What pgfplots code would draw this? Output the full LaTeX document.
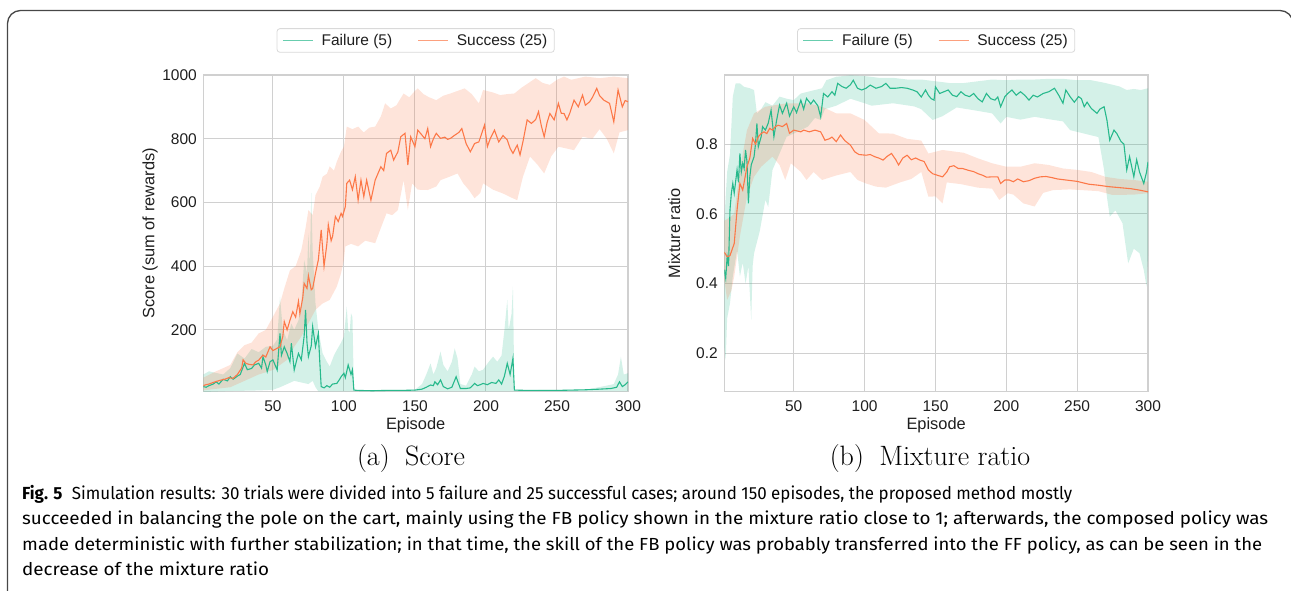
\documentclass[border=0pt]{standalone}
\usepackage{pgfplots}
\pgfplotsset{compat=1.18}
\usepgfplotslibrary{fillbetween}
\usepackage{fontspec}
\usepackage{graphicx}
\newfontfamily\arial{Liberation Sans}
\newfontfamily\capfont{Fira Sans}
\definecolor{cgreen}{RGB}{40,185,140}
\definecolor{corange}{RGB}{252,120,72}
\definecolor{gridc}{RGB}{208,208,208}
\definecolor{tickc}{RGB}{30,30,30}
\newlength\capw
\newcommand\capsize{\capfont\fontsize{17.5}{25}\selectfont}
\newcommand\lineA{\textbf{Fig. 5}\hspace{0.55em}Simulation results: 30 trials were divided into 5 failure and 25 successful cases; around 150 episodes, the proposed method mostly}
\newcommand\lineB{succeeded in balancing the pole on the cart, mainly using the FB policy shown in the mixture ratio close to 1; afterwards, the composed policy was}
\newcommand\lineC{made deterministic with further stabilization; in that time, the skill of the FB policy was probably transferred into the FF policy, as can be seen in the}
\newcommand\lineD{decrease of the mixture ratio}

\pgfplotsset{
  myaxis/.style={
    scale only axis,
    anchor=south west,
    xmin=1, xmax=300,
    xtick={50,100,150,200,250,300},
    xticklabels={50,100,150,200,250,300},
    grid=major,
    major grid style={draw=gridc, line width=1pt},
    axis line style={draw=gridc, line width=1.4pt},
    major tick length=0pt,
    tick style={draw=none},
    ticklabel style={font=\arial\fontsize{15.5}{18}\selectfont, text=tickc},
    xticklabel style={anchor=center, yshift=-14pt},
    yticklabel style={anchor=east, xshift=-3pt},
    label style={font=\arial\fontsize{16.4}{19}\selectfont, text=tickc},
    xlabel={Episode},
    xlabel style={at={(axis description cs:0.5,-0.107)}, anchor=center},
    legend columns=2,
    legend style={at={(axis description cs:0.5,1.109)}, anchor=center,
      draw=gridc!80, rounded corners=3pt, line width=0.8pt,
      font=\arial\fontsize{15.5}{18}\selectfont, text=tickc,
      inner xsep=5pt, inner ysep=3.5pt,
      /tikz/every odd column/.append style={column sep=6pt},
      /tikz/every even column/.append style={column sep=23pt}},
    legend image code/.code={\draw[#1, line width=1.6pt, opacity=0.7] (0pt,0pt) -- (30pt,0pt);},
  },
  fline/.style={cgreen, line width=1.1pt},
  sline/.style={corange, line width=1.1pt},
}

\begin{document}
\settowidth{\capw}{\capsize\lineA}\pgfmathsetmacro\rA{1050/\capw}%
\settowidth{\capw}{\capsize\lineB}\pgfmathsetmacro\rB{1246/\capw}%
\settowidth{\capw}{\capsize\lineC}\pgfmathsetmacro\rC{1240/\capw}%
\settowidth{\capw}{\capsize\lineD}\pgfmathsetmacro\rD{247/\capw}%
\begin{tikzpicture}
\path (0pt,0pt) rectangle (1291pt,590pt);
\draw[overlay, line width=1.3pt, black!72, rounded corners=13pt] (7.5pt,-40pt) -- (7.5pt,579.5pt) -- (1293pt,579.5pt) -- (1293pt,-40pt);

% ---------------- (a) Score ----------------
\begin{axis}[myaxis, at={(203.3pt,198.3pt)}, width=424.7pt, height=316.7pt,
  ymin=6, ymax=1000,
  ytick={200,400,600,800,1000}, yticklabels={200,400,600,800,1000},
  ylabel={Score (sum of rewards)},
  ylabel style={at={(axis description cs:-0.125,0.5)}, anchor=center}]
% Failure band
\addplot[draw=none, name path=fu, forget plot] coordinates {
(1,60) (5,70) (10,65) (15,60) (20,80) (25,126) (30,110) (35,140) (40,130) (45,147) (50,150) (53,170) (55,304) (57,200) (60,168) (63,220) (65,200) (68,230) (70,283) (72,419) (74,380) (75,504) (76,400) (77,630) (78,450) (80,283) (82,200) (85,126) (88,100) (90,85) (93,120) (95,137) (98,160) (100,179) (102,273) (103,200) (104,190) (105,252) (106,240) (107,11) (110,11) (150,12) (155,30) (158,60) (161,95) (163,60) (165,80) (168,132) (170,90) (173,70) (176,100) (178,142) (180,110) (182,30) (186,25) (190,60) (192,85) (195,70) (198,75) (202,100) (205,116) (208,100) (211,120) (213,200) (215,294) (216,200) (218,250) (219,336) (220,11) (270,12) (285,25) (290,30) (293,60) (295,116) (297,60) (300,64)};
\addplot[draw=none, name path=fl, forget plot] coordinates {
(1,5) (20,8) (40,10) (50,12) (55,20) (60,30) (65,40) (70,35) (75,30) (78,40) (80,20) (82,7) (107,7) (300,7)};
\addplot[fill=cgreen, fill opacity=0.2, draw=none, forget plot] fill between[of=fu and fl];
\addplot[fline] coordinates {
(1,22) (3,20) (5,25) (8,30) (10,37) (12,30) (15,45) (18,40) (20,53) (22,45) (25,55) (27,60) (30,95) (32,75) (35,79) (37,90) (40,95) (42,80) (43,116) (45,90) (46,69) (48,100) (50,106) (52,85) (53,74) (55,189) (56,120) (58,147) (60,126) (62,100) (63,158) (65,74) (67,110) (68,126) (70,106) (72,180) (73,263) (74,160) (75,116) (77,150) (78,210) (80,147) (82,189) (83,100) (84,22) (86,18) (88,25) (90,20) (92,30) (95,32) (97,45) (98,53) (100,64) (101,50) (103,90) (105,60) (106,75) (107,11) (110,10) (120,9) (130,10) (140,10) (150,11) (155,14) (158,20) (161,27) (163,25) (164,37) (166,28) (168,43) (170,22) (173,15) (176,20) (179,53) (180,40) (182,16) (186,16) (189,18) (192,32) (194,25) (196,28) (198,32) (201,28) (204,35) (207,32) (209,43) (211,30) (213,55) (215,95) (217,60) (219,111) (220,11) (230,10) (240,10) (250,10) (260,11) (270,12) (280,14) (288,16) (292,20) (294,37) (296,22) (298,28) (300,37)};
\addlegendentry{Failure (5)}
% Success band
\addplot[draw=none, name path=su, forget plot] coordinates {
(1,50) (10,70) (20,90) (25,130) (30,152) (35,160) (40,189) (45,200) (50,241) (55,283) (58,330) (62,387) (66,400) (70,450) (73,520) (75,576) (78,560) (80,623) (83,650) (85,681) (88,690) (90,713) (93,700) (95,728) (98,760) (100,775) (102,838) (106,830) (110,838) (114,820) (118,835) (122,838) (126,870) (129,911) (133,895) (137,905) (142,942) (146,930) (150,950) (152,958) (156,940) (160,930) (165,921) (170,935) (175,942) (180,950) (185,958) (190,940) (195,911) (198,953) (205,945) (210,937) (215,940) (220,942) (225,960) (230,975) (235,990) (240,975) (245,969) (250,985) (255,995) (260,985) (270,995) (280,990) (290,995) (300,990)};
\addplot[draw=none, name path=sl, forget plot] coordinates {
(1,10) (10,15) (20,20) (30,40) (40,60) (50,74) (55,90) (60,106) (65,147) (70,179) (75,221) (80,263) (85,283) (90,294) (95,336) (98,378) (100,420) (101,462) (105,470) (110,462) (115,480) (122,472) (126,520) (130,566) (134,560) (138,576) (142,670) (145,576) (148,660) (152,640) (159,639) (165,650) (168,670) (174,680) (180,691) (184,660) (188,639) (192,613) (196,630) (198,660) (205,640) (212,628) (218,615) (222,607) (226,680) (231,744) (236,720) (241,691) (246,745) (251,775) (256,770) (262,764) (268,806) (275,800) (280,830) (285,800) (290,754) (294,820) (300,827)};
\addplot[fill=corange, fill opacity=0.2, draw=none, forget plot] fill between[of=su and sl];
\addplot[sline] coordinates {
(1,25) (3,28) (5,30) (8,35) (10,38) (13,42) (16,45) (19,50) (22,48) (25,60) (28,80) (29,106) (31,95) (33,92) (36,90) (38,100) (40,105) (43,121) (45,115) (48,147) (50,135) (52,140) (55,147) (57,180) (58,226) (60,200) (62,230) (64,257) (66,240) (68,290) (69,251) (71,300) (72,346) (74,330) (75,370) (77,326) (78,330) (80,378) (82,420) (84,514) (86,399) (88,470) (89,530) (91,480) (92,493) (94,556) (96,540) (98,566) (99,556) (101,587) (102,660) (104,670) (106,640) (108,681) (110,607) (112,670) (114,618) (116,670) (119,607) (122,670) (124,691) (126,712) (128,700) (130,754) (133,764) (135,733) (138,759) (140,806) (143,817) (145,717) (147,806) (150,775) (152,827) (155,811) (157,800) (159,832) (161,775) (163,800) (165,817) (168,801) (171,805) (173,798) (175,801) (178,811) (181,820) (183,832) (186,785) (189,759) (192,785) (195,790) (199,843) (201,775) (203,800) (206,827) (209,790) (212,810) (215,796) (217,770) (219,754) (222,780) (224,749) (226,790) (229,859) (232,848) (235,860) (237,885) (239,840) (241,806) (243,850) (245,879) (248,859) (251,911) (253,880) (255,879) (257,859) (259,880) (262,921) (265,900) (268,937) (270,905) (273,916) (275,930) (278,958) (280,935) (283,921) (287,911) (290,853) (293,953) (296,900) (298,920) (300,916)};
\addlegendentry{Success (25)}
\end{axis}

% ---------------- (b) Mixture ratio ----------------
\begin{axis}[myaxis, at={(724.3pt,198.3pt)}, width=423.7pt, height=316.7pt,
  ymin=0.09, ymax=0.998,
  ytick={0.2,0.4,0.6,0.8}, yticklabels={0.2,0.4,0.6,0.8},
  ylabel={Mixture ratio},
  ylabel style={at={(axis description cs:-0.118,0.5)}, anchor=center}]
\addplot[draw=none, name path=gu, forget plot] coordinates {
(1,0.58) (3,0.72) (5,0.77) (7,0.936) (9,0.974) (12,0.974) (15,0.964) (19,0.96) (22,0.955) (24,0.888) (27,0.9) (30,0.92) (35,0.91) (40,0.936) (45,0.93) (50,0.926) (55,0.945) (60,0.95) (65,0.955) (70,0.96) (73,0.983) (80,0.993) (90,0.997) (100,0.995) (110,0.99) (120,0.99) (130,0.985) (140,0.985) (150,0.98) (160,0.975) (170,0.975) (180,0.98) (190,0.985) (200,0.983) (210,0.985) (220,0.985) (230,0.987) (240,0.987) (250,0.983) (260,0.983) (270,0.975) (280,0.965) (285,0.955) (290,0.958) (295,0.955) (300,0.96)};
\addplot[draw=none, name path=gl, forget plot] coordinates {
(1,0.22) (2,0.181) (3,0.3) (5,0.343) (7,0.42) (10,0.496) (12,0.42) (14,0.46) (16,0.4) (18,0.45) (20,0.296) (21,0.45) (22,0.487) (26,0.55) (30,0.64) (32,0.62) (35,0.726) (40,0.773) (45,0.821) (50,0.83) (55,0.84) (60,0.85) (65,0.875) (69,0.869) (72,0.9) (80,0.91) (90,0.93) (100,0.917) (105,0.91) (120,0.917) (135,0.908) (140,0.90) (148,0.869) (155,0.88) (165,0.905) (180,0.895) (190,0.888) (196,0.859) (200,0.878) (210,0.87) (220,0.878) (232,0.87) (240,0.865) (245,0.84) (255,0.83) (265,0.82) (269,0.726) (271,0.649) (273,0.592) (277,0.61) (282,0.573) (284,0.515) (286,0.458) (290,0.5) (294,0.487) (297,0.439) (299,0.391) (300,0.48)};
\addplot[fill=cgreen, fill opacity=0.2, draw=none, forget plot] fill between[of=gu and gl];
\addplot[fline] coordinates {
(1,0.44) (2,0.415) (3,0.477) (4,0.45) (5,0.611) (6,0.66) (7,0.687) (8,0.659) (10,0.726) (11,0.69) (12,0.773) (13,0.72) (14,0.745) (15,0.73) (16,0.783) (17,0.75) (18,0.63) (19,0.706) (20,0.74) (22,0.764) (23,0.8) (24,0.859) (25,0.792) (27,0.821) (28,0.85) (30,0.84) (32,0.86) (34,0.897) (36,0.821) (38,0.87) (40,0.912) (42,0.888) (45,0.917) (47,0.88) (50,0.907) (52,0.89) (55,0.926) (57,0.9) (59,0.931) (62,0.915) (64,0.926) (67,0.91) (69,0.878) (71,0.945) (74,0.935) (77,0.95) (79,0.94) (81,0.974) (84,0.965) (87,0.96) (90,0.97) (92,0.983) (95,0.96) (98,0.955) (101,0.96) (104,0.969) (108,0.96) (112,0.965) (115,0.974) (118,0.96) (122,0.96) (126,0.962) (130,0.96) (134,0.955) (137,0.95) (140,0.935) (143,0.955) (145,0.94) (147,0.93) (149,0.926) (150,0.964) (153,0.945) (156,0.95) (159,0.955) (162,0.94) (165,0.936) (168,0.95) (171,0.94) (174,0.936) (177,0.945) (180,0.93) (183,0.921) (186,0.945) (189,0.93) (192,0.926) (194,0.935) (196,0.907) (199,0.936) (201,0.945) (204,0.955) (207,0.94) (210,0.95) (213,0.94) (216,0.926) (219,0.94) (222,0.935) (226,0.945) (230,0.95) (234,0.96) (237,0.94) (240,0.917) (242,0.955) (245,0.936) (248,0.92) (251,0.936) (253,0.93) (255,0.907) (257,0.92) (260,0.902) (264,0.888) (266,0.9) (269,0.907) (271,0.869) (273,0.811) (276,0.84) (278,0.83) (281,0.807) (283,0.8) (285,0.726) (287,0.764) (290,0.706) (292,0.755) (294,0.72) (297,0.687) (299,0.72) (300,0.749)};
\addlegendentry{Failure (5)}
\addplot[draw=none, name path=ou, forget plot] coordinates {
(1,0.58) (5,0.59) (8,0.6) (12,0.726) (17,0.84) (22,0.888) (30,0.907) (45,0.917) (60,0.917) (70,0.907) (80,0.888) (90,0.888) (100,0.869) (110,0.831) (120,0.83) (130,0.815) (140,0.81) (145,0.773) (155,0.783) (170,0.775) (180,0.759) (190,0.745) (200,0.735) (210,0.735) (220,0.745) (230,0.74) (240,0.73) (250,0.726) (260,0.72) (270,0.706) (280,0.7) (290,0.697) (300,0.692)};
\addplot[draw=none, name path=ol, forget plot] coordinates {
(1,0.41) (3,0.353) (6,0.38) (8,0.42) (12,0.535) (17,0.649) (22,0.706) (27,0.735) (35,0.764) (40,0.74) (44,0.697) (48,0.745) (55,0.72) (59,0.697) (64,0.72) (70,0.697) (80,0.71) (90,0.72) (95,0.697) (101,0.687) (108,0.678) (115,0.675) (125,0.69) (133,0.7) (140,0.72) (145,0.649) (150,0.65) (155,0.63) (158,0.69) (168,0.685) (180,0.675) (190,0.672) (195,0.64) (201,0.659) (205,0.655) (212,0.63) (220,0.621) (226,0.66) (233,0.668) (245,0.67) (265,0.665) (275,0.654) (290,0.655) (300,0.659)};
\addplot[fill=corange, fill opacity=0.2, draw=none, forget plot] fill between[of=ou and ol];
\addplot[sline] coordinates {
(1,0.49) (3,0.477) (5,0.48) (8,0.515) (10,0.611) (12,0.687) (14,0.668) (17,0.735) (19,0.76) (21,0.816) (23,0.8) (25,0.821) (27,0.83) (29,0.835) (31,0.83) (33,0.845) (35,0.84) (37,0.85) (39,0.854) (42,0.85) (45,0.859) (47,0.831) (50,0.84) (55,0.835) (57,0.84) (61,0.835) (65,0.84) (69,0.835) (72,0.811) (75,0.815) (77,0.82) (80,0.807) (83,0.826) (86,0.81) (90,0.797) (93,0.778) (96,0.77) (101,0.768) (104,0.77) (107,0.764) (110,0.76) (113,0.754) (116,0.765) (119,0.773) (122,0.755) (124,0.74) (127,0.76) (130,0.768) (133,0.755) (136,0.76) (139,0.754) (142,0.75) (145,0.726) (148,0.715) (151,0.711) (155,0.706) (158,0.72) (160,0.735) (163,0.738) (166,0.73) (169,0.73) (173,0.725) (177,0.721) (180,0.715) (183,0.711) (186,0.705) (190,0.706) (194,0.706) (196,0.687) (199,0.697) (202,0.697) (205,0.692) (208,0.7) (212,0.692) (216,0.695) (220,0.702) (224,0.706) (228,0.707) (232,0.704) (236,0.7) (242,0.697) (250,0.693) (258,0.685) (265,0.682) (272,0.678) (280,0.675) (288,0.672) (294,0.668) (300,0.663)};
\addlegendentry{Success (25)}
\end{axis}

% sub captions
\node[anchor=base, font=\fontsize{28}{33}\selectfont] at (411pt,124.5pt) {(a)\hspace{0.55em}Score};
\node[anchor=base, font=\fontsize{28}{33}\selectfont] at (930pt,124.5pt) {(b)\hspace{0.55em}Mixture ratio};

% figure caption
\node[anchor=base west, inner sep=0pt, font=\capsize] at (22pt,91pt) {\scalebox{\rA}[1]{\lineA}};
\node[anchor=base west, inner sep=0pt, font=\capsize] at (22pt,65.5pt) {\scalebox{\rB}[1]{\lineB}};
\node[anchor=base west, inner sep=0pt, font=\capsize] at (22pt,40pt) {\scalebox{\rC}[1]{\lineC}};
\node[anchor=base west, inner sep=0pt, font=\capsize] at (22pt,14.5pt) {\scalebox{\rD}[1]{\lineD}};
\end{tikzpicture}
\end{document}
